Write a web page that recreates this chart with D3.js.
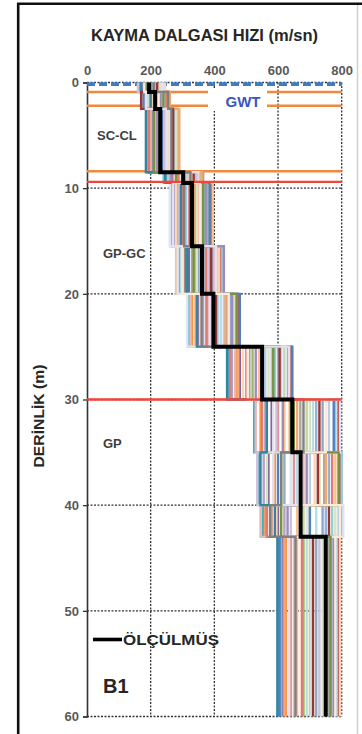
<!DOCTYPE html>
<html><head><meta charset="utf-8">
<script src="https://cdn.jsdelivr.net/npm/d3@7"></script>
<style>
html,body{margin:0;padding:0;background:#fff;}
svg{display:block;font-family:"Liberation Sans",Arial,sans-serif;}
</style></head>
<body>
<svg id="chart" width="362" height="734"></svg>
<script>
// ---- data ----
const xTicks = [0, 200, 400, 600, 800];
const yTicks = [0, 10, 20, 30, 40, 50, 60];
// layer boundaries (m) used by the simulated and measured profiles
const layerDepths = [0, 0.9, 2.5, 8.5, 9.5, 15.5, 20, 25, 30, 35, 40, 43, 60];
// measured Vs per layer (m/sn)
const measuredVs = [195, 214, 230, 302, 330, 361, 397, 550, 645, 671, 671, 750];
// simulated Vs profiles per layer (m/sn)
const simulatedVs = [
  [165, 180, 195, 250, 268, 290, 320, 445, 525, 540, 552, 600],
  [240, 255, 280, 360, 390, 420, 475, 640, 790, 795, 800, 792],
  [200, 210, 225, 300, 340, 360, 400, 520, 650, 610, 700, 680],
  [175, 190, 205, 270, 300, 320, 350, 480, 580, 570, 600, 615],
  [220, 235, 260, 330, 370, 395, 450, 600, 720, 760, 750, 745],
  [185, 230, 250, 310, 285, 305, 330, 470, 545, 590, 560, 625],
  [230, 200, 215, 345, 355, 410, 430, 560, 760, 700, 790, 770],
  [170, 245, 270, 260, 320, 340, 380, 500, 600, 650, 580, 640],
  [210, 185, 240, 355, 380, 300, 460, 620, 690, 730, 680, 700],
  [195, 220, 190, 285, 275, 385, 365, 455, 560, 555, 620, 610],
  [235, 260, 285, 240, 310, 425, 410, 590, 780, 800, 770, 785],
  [180, 205, 230, 320, 395, 280, 340, 540, 620, 780, 660, 660],
  [205, 175, 265, 295, 265, 350, 470, 630, 740, 620, 740, 720],
  [225, 215, 200, 340, 350, 400, 325, 465, 530, 680, 545, 650],
  [190, 250, 275, 365, 330, 330, 440, 510, 670, 745, 800, 760],
  [160, 195, 245, 255, 290, 370, 390, 580, 595, 535, 640, 730],
  [215, 240, 210, 315, 360, 295, 420, 610, 710, 660, 720, 690],
  [245, 225, 255, 275, 280, 415, 355, 490, 635, 715, 595, 795],
  [185, 180, 235, 350, 385, 310, 480, 645, 775, 600, 700, 605],
  [200, 250, 195, 290, 300, 375, 375, 450, 550, 770, 565, 675],
  [230, 190, 280, 330, 345, 345, 395, 570, 700, 565, 780, 740],
  [175, 230, 220, 265, 375, 430, 455, 530, 615, 690, 630, 775],
  [240, 210, 260, 305, 260, 285, 315, 625, 795, 640, 805, 705],
  [195, 260, 290, 360, 335, 360, 435, 475, 660, 750, 670, 620],
  [170, 200, 185, 245, 295, 315, 345, 440, 565, 545, 590, 598],
  [220, 170, 270, 335, 325, 390, 405, 605, 730, 725, 760, 710],
  [190, 240, 210, 280, 365, 335, 470, 585, 640, 790, 610, 765],
  [235, 185, 250, 350, 270, 405, 385, 635, 585, 585, 690, 635],
  [180, 225, 230, 295, 355, 300, 445, 505, 750, 670, 795, 780],
  [210, 255, 265, 325, 305, 365, 360, 550, 680, 610, 575, 655]
];
const simColors = [
  '#4BACC6','#C0504D','#9BBB59','#8064A2','#95B3D7','#F79646',
  '#B9CDE5','#D99694','#C3D69B','#B3A2C7','#93CDDD','#FAC090',
  '#8EA9C8','#E6B9B8','#A6A6A6','#CCC1DA','#B7DEE8','#FCD5B5',
  '#4F81BD','#E07B73','#D7E4BD','#9E8BBE','#DCE6F2','#F4A870',
  '#31859C','#953735','#77933C','#E6E0EC','#FDEADA','#7F7F7F'
];
const gwtDepth = 0.15;
const orangeDepths = [0.9, 2.2, 8.4];
const redDepths = [9.4, 30];
const soilLabels = [{t:'SC-CL', d:5.4}, {t:'GP-GC', d:16.6}, {t:'GP', d:34.6}];

// ---- chart ----
const svg = d3.select('#chart');
const x = d3.scaleLinear().domain([0, 800]).range([87, 341.7]);
const y = d3.scaleLinear().domain([0, 60]).range([82.5, 716.5]);

// outer frame
svg.append('line').attr('x1',357.5).attr('x2',357.5).attr('y1',5).attr('y2',734)
  .attr('stroke','#d0d0d0').attr('stroke-width',1.5);
svg.append('line').attr('x1',17).attr('x2',362).attr('y1',3.8).attr('y2',3.8)
  .attr('stroke','#111').attr('stroke-width',2.6);
svg.append('line').attr('x1',18.2).attr('x2',18.2).attr('y1',3).attr('y2',734)
  .attr('stroke','#111').attr('stroke-width',2.6);

// gridlines
const grid = svg.append('g');
grid.selectAll('.vg').data(xTicks.filter(d=>d>0)).join('line')
  .attr('x1',d=>x(d)).attr('x2',d=>x(d)).attr('y1',y(0)).attr('y2',y(60))
  .attr('stroke','#333').attr('stroke-width',1.3).attr('stroke-dasharray','2,1.5');
grid.selectAll('.hg').data(yTicks).join('line')
  .attr('x1',x(0)).attr('x2',x(800)).attr('y1',d=>y(d)).attr('y2',d=>y(d))
  .attr('stroke','#333').attr('stroke-width',1.3).attr('stroke-dasharray','2,1.5');

// left axis
const yAxis = d3.axisLeft(y).tickValues(yTicks).tickSize(4).tickPadding(4);
const gy = svg.append('g').attr('transform',`translate(${x(0)},0)`).call(yAxis);
gy.select('.domain').attr('stroke','#333').attr('stroke-width',1.6);
gy.selectAll('.tick line').attr('stroke','#333').attr('stroke-width',1.3);
gy.selectAll('.tick text').attr('font-size',13).attr('font-weight','bold')
  .attr('fill','#595959').attr('font-family','"Liberation Sans",Arial,sans-serif');

// top axis labels
const xAxis = d3.axisTop(x).tickValues(xTicks).tickSize(0).tickPadding(8);
const gx = svg.append('g').attr('transform',`translate(0,${y(0)})`).call(xAxis);
gx.select('.domain').remove();
gx.selectAll('.tick text').attr('font-size',13).attr('font-weight','bold')
  .attr('fill','#595959').attr('font-family','"Liberation Sans",Arial,sans-serif');

// orange horizontal lines
svg.selectAll('.orl').data(orangeDepths).join('line')
  .attr('x1',x(0)).attr('x2',x(800)).attr('y1',d=>y(d)).attr('y2',d=>y(d))
  .attr('stroke','#F0883E').attr('stroke-width',2.4);
// GWT dashed
svg.append('line').attr('x1',x(0)).attr('x2',x(800)).attr('y1',y(gwtDepth)).attr('y2',y(gwtDepth))
  .attr('stroke','#3C7DC6').attr('stroke-width',3.6).attr('stroke-dasharray','8,4');

// simulated profiles
const stepPts = vs => vs.flatMap((v,i)=>[[v, layerDepths[i]],[v, layerDepths[i+1]]]);
const line = d3.line().x(d=>x(d[0])).y(d=>y(d[1]));
svg.append('g').selectAll('path').data(simulatedVs).join('path')
  .attr('d',d=>line(stepPts(d))).attr('fill','none')
  .attr('stroke',(d,i)=>simColors[i%simColors.length]).attr('stroke-width',2.4);

// red lines
svg.selectAll('.rdl').data(redDepths).join('line')
  .attr('x1',x(0)).attr('x2',x(800)).attr('y1',d=>y(d)).attr('y2',d=>y(d))
  .attr('stroke','#F2453A').attr('stroke-width',2.4);

// GWT label
svg.append('rect').attr('x',208).attr('y',88).attr('width',59).attr('height',23).attr('fill','#fff');
svg.append('text').attr('x',243).attr('y',107).attr('text-anchor','middle')
  .attr('font-size',15).attr('font-weight','bold').attr('fill','#3A55C0').text('GWT');

// measured
svg.append('path').attr('d',line(stepPts(measuredVs))).attr('fill','none')
  .attr('stroke','#000').attr('stroke-width',4).attr('stroke-linejoin','miter');

// soil labels
svg.selectAll('.soil').data(soilLabels).join('text')
  .attr('x',(d,i)=> i===0 ? 97 : 103).attr('y',d=>y(d.d))
  .attr('font-size',13).attr('font-weight','bold').attr('fill','#404040').text(d=>d.t);

// title
svg.append('text').attr('x',204.5).attr('y',41).attr('text-anchor','middle')
  .attr('font-size',16).attr('font-weight','bold').attr('fill','#262626')
  .attr('textLength',227).attr('lengthAdjust','spacingAndGlyphs')
  .text('KAYMA DALGASI HIZI (m/sn)');

// y label
svg.append('text').attr('transform','translate(44,416) rotate(-90)').attr('text-anchor','middle')
  .attr('font-size',14.5).attr('font-weight','bold').attr('fill','#262626')
  .attr('textLength',103).attr('lengthAdjust','spacingAndGlyphs')
  .text('DERİNLİK (m)');

// legend
svg.append('line').attr('x1',93).attr('x2',122).attr('y1',639.5).attr('y2',639.5)
  .attr('stroke','#000').attr('stroke-width',3.6);
svg.append('text').attr('x',123).attr('y',645).attr('font-size',14.5).attr('font-weight','bold')
  .attr('fill','#262626').attr('textLength',96).attr('lengthAdjust','spacingAndGlyphs').text('ÖLÇÜLMÜŞ');
svg.append('text').attr('x',103).attr('y',693).attr('font-size',20).attr('font-weight','bold')
  .attr('fill','#262626').text('B1');
</script>
</body></html>
